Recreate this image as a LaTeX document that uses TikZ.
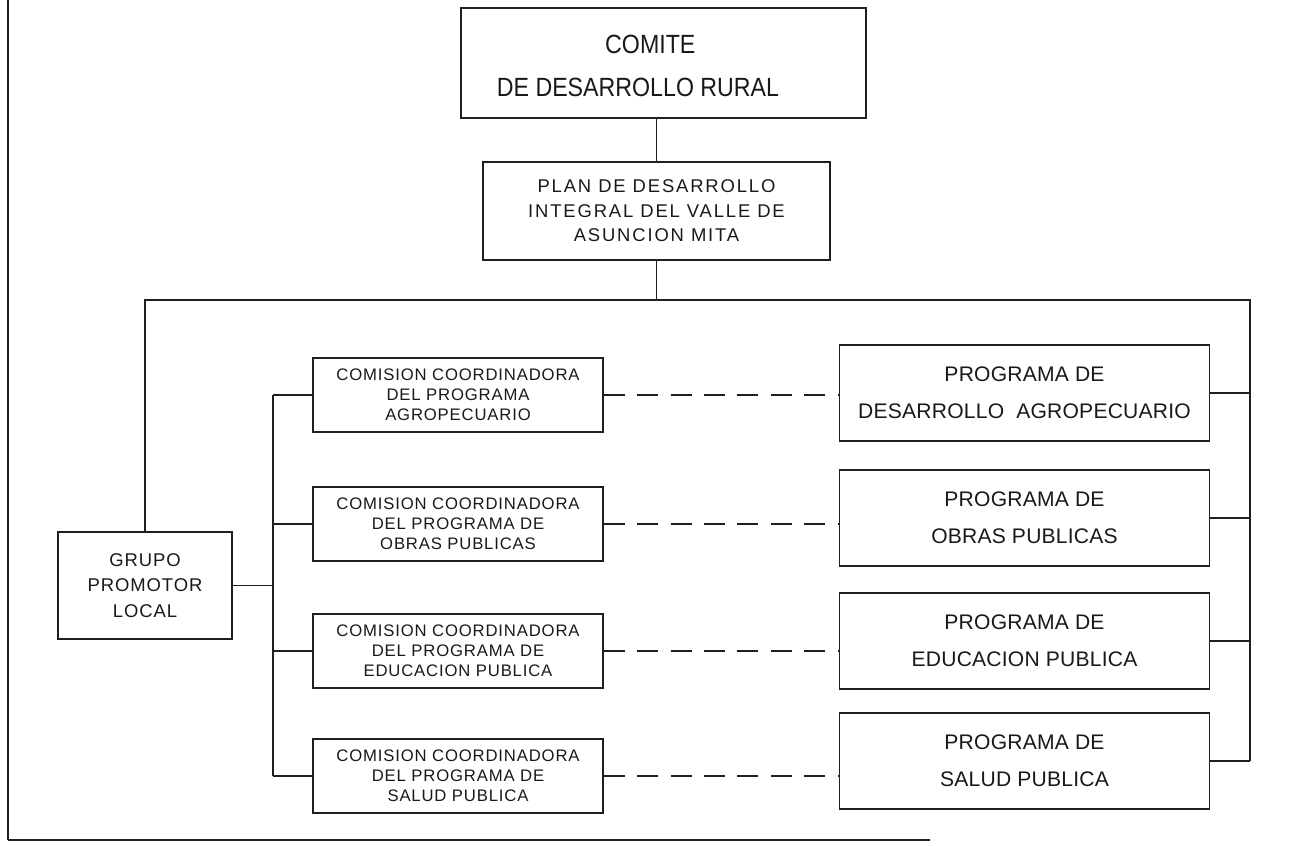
\documentclass[tikz,border=0pt]{standalone}
\usepackage{fontspec}
\setmainfont{Liberation Sans}
\newfontfamily\fcmt[FakeStretch=0.88]{Liberation Sans}
\newfontfamily\fcom[LetterSpace=5]{Liberation Sans}
\newfontfamily\fplan[LetterSpace=10]{Liberation Sans}
\newfontfamily\fprog[LetterSpace=1]{Liberation Sans}
\newfontfamily\fgrp[LetterSpace=5]{Liberation Sans}
\begin{document}
\begin{tikzpicture}[x=0.02cm,y=-0.02cm,
  ink/.style={draw=black!88},
  box/.style={ink,line width=1pt,rectangle,inner sep=0pt,align=center,text=black!90},
  comitebox/.style={box,minimum width=8.1cm,minimum height=2.2cm},
  comitetext/.style={inner sep=0pt,align=center,text=black!90,font=\fcmt\fontsize{15}{24}\selectfont},
  planbox/.style={box,minimum width=6.94cm,minimum height=1.96cm,font=\fplan\fontsize{10.5}{13.9}\selectfont},
  grpbox/.style={box,minimum width=3.48cm,minimum height=2.14cm,font=\fgrp\fontsize{10.5}{14.7}\selectfont},
  combox/.style={box,minimum width=5.8cm,minimum height=1.48cm,font=\fcom\fontsize{9.5}{11.3}\selectfont},
  progbox/.style={box,minimum width=7.4cm,minimum height=1.92cm,font=\fprog\fontsize{12}{21}\selectfont},
  conn/.style={ink,line width=0.6pt},
  dashconn/.style={ink,line width=0.6pt,dash pattern=on 12pt off 7pt},
  frame/.style={ink,line width=1pt}
]
\useasboundingbox (0,0) rectangle (1290,845);

% outer frame
\coordinate (f1) at (8,0);
\coordinate (f2) at (8,840);
\coordinate (f3) at (930,840);
\draw[frame] (f1) -- (f2);
\draw[frame,line width=1.5pt] (f2) -- (f3);

% boxes
\node[comitebox] (comite) at (663.5,63) {};
\node[comitetext] (comitelbl) at (638,66) {\hspace*{14pt}COMITE\\DE DESARROLLO RURAL};
\node[planbox] (plan) at (656.5,211) {PLAN DE DESARROLLO\\INTEGRAL DEL VALLE DE\\ASUNCION MITA};
\node[grpbox] (grupo) at (145,585.5) {GRUPO\\PROMOTOR\\LOCAL};

\node[combox] (c1) at (458,395) {COMISION COORDINADORA\\DEL PROGRAMA\\AGROPECUARIO};
\node[combox] (c2) at (458,524) {COMISION COORDINADORA\\DEL PROGRAMA DE\\OBRAS PUBLICAS};
\node[combox] (c3) at (458,651) {COMISION COORDINADORA\\DEL PROGRAMA DE\\EDUCACION PUBLICA};
\node[combox] (c4) at (458,776) {COMISION COORDINADORA\\DEL PROGRAMA DE\\SALUD PUBLICA};

\node[progbox] (p1) at (1024.5,393) {PROGRAMA DE\\DESARROLLO\ \ AGROPECUARIO};
\node[progbox] (p2) at (1024.5,518) {PROGRAMA DE\\OBRAS PUBLICAS};
\node[progbox] (p3) at (1024.5,641) {PROGRAMA DE\\EDUCACION PUBLICA};
\node[progbox] (p4) at (1024.5,761) {PROGRAMA DE\\SALUD PUBLICA};

% bus coordinates
\coordinate (tb) at (656.5,300);
\coordinate (rb) at (1250,300);
\coordinate (lb) at (273,300);

% vertical trunk
\draw[conn] (plan.north |- comite.south) -- (plan.north);
\draw[conn] (plan.south) -- (tb);
\draw[conn] (grupo.north) |- (rb) -- (rb |- p4.east);

% right connectors
\foreach \p in {p1,p2,p3,p4}
  \draw[conn] (\p.east) -- (rb |- \p.east);

% left bus
\draw[conn] (grupo.east) -- (grupo.east -| lb);
\draw[conn] (lb |- c1.west) -- (lb |- c4.west);
\foreach \c in {c1,c2,c3,c4}
  \draw[conn] (\c.west) -- (lb |- \c.west);

% dashed links
\draw[dashconn] (c1.east) -- (c1.east -| p1.west);
\draw[dashconn] (c2.east) -- (c2.east -| p2.west);
\draw[dashconn] (c3.east) -- (c3.east -| p3.west);
\draw[dashconn] (c4.east) -- (c4.east -| p4.west);
\end{tikzpicture}
\end{document}
